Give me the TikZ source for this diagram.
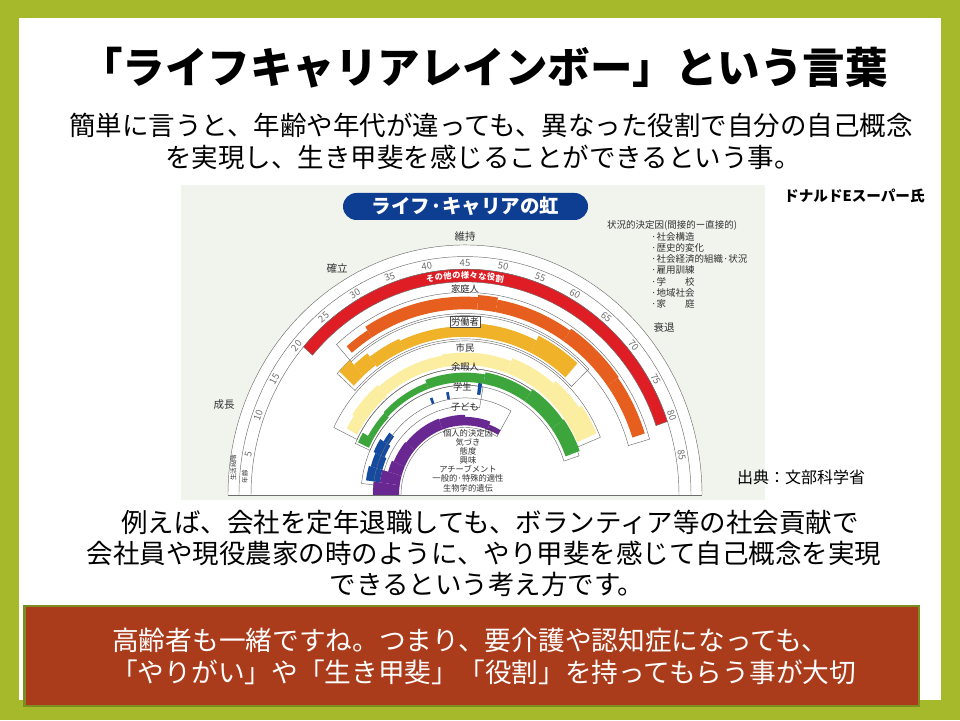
\documentclass[tikz,border=0pt]{standalone}
\usepackage{fontspec}
\setmainfont{Noto Sans CJK JP}
\newfontfamily\jp{Noto Sans CJK JP}
\definecolor{bggreen}{RGB}{166,185,42}
\definecolor{boxred}{RGB}{170,60,28}
\definecolor{boxedge}{RGB}{125,140,32}
\definecolor{paper}{RGB}{240,244,236}
\definecolor{pillblue}{RGB}{14,62,145}
\definecolor{cred}{RGB}{222,30,36}
\definecolor{corange}{RGB}{230,95,30}
\definecolor{cgold}{RGB}{240,178,40}
\definecolor{cpale}{RGB}{251,238,160}
\definecolor{cgreen}{RGB}{60,165,60}
\definecolor{cblue}{RGB}{20,75,160}
\definecolor{cpurple}{RGB}{105,40,145}
\definecolor{lgray}{RGB}{110,110,110}
\newcommand\rbnd[5]{\fill[#1] ({180-2*(#2)}:#4) arc[start angle={180-2*(#2)}, end angle={180-2*(#3)}, radius=#4] -- ({180-2*(#3)}:#5) arc[start angle={180-2*(#3)}, end angle={180-2*(#2)}, radius=#5] -- cycle;}
\newcommand\rbout[4]{\draw[outl] ({180-2*(#1)}:#3) arc[start angle={180-2*(#1)}, end angle={180-2*(#2)}, radius=#3] -- ({180-2*(#2)}:#4) arc[start angle={180-2*(#2)}, end angle={180-2*(#1)}, radius=#4] -- cycle;}
\begin{document}
\begin{tikzpicture}[x=1pt,y=1pt,
  outl/.style={draw=lgray, line width=0.45pt},
  body/.style={font=\fontsize{26.5}{30}\selectfont, inner sep=0pt},
  wbody/.style={font=\fontsize{26.7}{30}\selectfont, inner sep=0pt, text=white, anchor=west},
  agenum/.style={font=\fontsize{9.5}{10}\selectfont, text=lgray, inner sep=0pt},
  small/.style={font=\fontsize{9.5}{11}\selectfont, inner sep=0pt, text=black!80},
  tiny/.style={font=\fontsize{8.3}{9}\selectfont, inner sep=0pt, text=black!80},
  stage/.style={font=\fontsize{10.5}{12}\selectfont, inner sep=0pt, text=black!80},
  redtxt/.style={font=\bfseries\fontsize{8.3}{9}\selectfont, inner sep=0pt, text=white},
  rolelbl/.style={font=\fontsize{9.3}{10}\selectfont, inner sep=0pt, text=black!85},
 ]
\useasboundingbox (0,0) rectangle (960,720);
\fill[bggreen] (0,0) rectangle (960,720);
\fill[white] (19,20) rectangle (941,702);

% title and intro
\node[font=\bfseries\fontsize{42.5}{43}\selectfont, inner sep=0pt] (title) at (484,652) {「ライフキャリアレインボー」という言葉};
\node[body] (s1) at (491,595) {簡単に言うと、年齢や年代が違っても、異なった役割で自分の自己概念};
\node[body] (s2) at (483,563) {を実現し、生き甲斐を感じることができるという事。};

% diagram paper
\fill[paper] (181,220) rectangle (765,535);
\node[font=\bfseries\fontsize{14.6}{15}\selectfont, inner sep=0pt, anchor=west] (super) at (784,524) {ドナルドEスーパー氏};
\node[font=\fontsize{16}{16}\selectfont, inner sep=0pt, anchor=west] (src) at (737,243) {出典：文部科学省};

% pill title
\node[fill=pillblue, rounded corners=13.5pt, minimum width=245pt, minimum height=27pt, inner sep=0pt,
      font=\bfseries\fontsize{19.5}{20}\selectfont, text=white] (pill) at (465.5,513.5) {ライフ·キャリアの虹};

\begin{scope}[shift={(465,225)}, yscale=1.055]
  \fill[white] (180:237) arc[start angle=180, end angle=0, radius=237] -- cycle;
  \draw[outl] (180:237) arc[start angle=180, end angle=0, radius=237];
  \draw[outl] (180:226) arc[start angle=180, end angle=0, radius=226];
  \draw[outl] (180:214) arc[start angle=180, end angle=0, radius=214];
  \draw[outl] (180:237) -- (0:237);
  % age numbers
  \foreach \a in {5,10,...,85}
    \node[agenum, rotate={90-2*\a}] (n\a) at ({180-2*\a}:220) {\a};
  % red: others
  \rbnd{cred}{20.5}{80.5}{202}{214}
  \rbout{20.5}{80.5}{202}{214}
  \foreach \c [count=\i from 0] in {そ,の,他,の,様,々,な,役,割}
    \node[redtxt, rotate={(99.6-2.4*\i)-90}] (rt\i) at ({99.6-2.4*\i}:208) {\c};
  % orange: homemaker
  \rbout{24}{82}{170}{192}
  \rbnd{corange}{25}{29}{176}{184}
  \rbnd{corange}{29}{47}{176}{188}
  \rbnd{corange}{47}{50}{176}{190}
  \rbnd{corange}{50}{62}{176}{188}
  \rbnd{corange}{62}{72}{176}{190}
  \rbnd{corange}{72}{81}{176}{189}
  \node[rolelbl] (lhome) at (90:195) {家庭人};
  % gold: worker
  \rbout{21}{68}{148}{172}
  \rbnd{cgold}{21.5}{24}{152}{172}
  \rbnd{cgold}{24}{27}{152}{166}
  \rbnd{cgold}{27}{33}{150}{162}
  \rbnd{cgold}{33}{45}{150}{160}
  \rbnd{cgold}{45}{58}{150}{163}
  \rbnd{cgold}{58}{66}{150}{168}
  \node[rolelbl, fill=white, draw=black!70, line width=0.4pt, inner sep=1.2pt] (lwork) at (90:164) {労働者};
  % pale yellow: citizen
  \rbout{13}{79}{120}{146}
  \rbnd{cpale}{14}{17}{122}{134}
  \rbnd{cpale}{17}{25}{122}{136}
  \rbnd{cpale}{25}{40}{123}{134}
  \rbnd{cpale}{40}{55}{123}{135}
  \rbnd{cpale}{55}{65}{123}{138}
  \rbnd{cpale}{65}{72}{123}{141}
  \rbnd{cpale}{72}{78}{123}{144}
  \node[rolelbl] (lcit) at (90:139.5) {市民};
  % green: leisurite
  \rbout{12}{81}{104}{120}
  \rbnd{cgreen}{12.5}{15}{106}{118}
  \rbnd{cgreen}{15}{22}{106}{112}
  \rbnd{cgreen}{22}{35}{107}{113}
  \rbnd{cgreen}{35}{50}{107}{116}
  \rbnd{cgreen}{50}{62}{107}{118}
  \rbnd{cgreen}{62}{72}{107}{121}
  \rbnd{cgreen}{72}{80}{107}{122}
  \node[rolelbl] (lleis) at (90:121) {余暇人};
  % blue: student
  \rbout{3}{50}{84}{104}
  \rbnd{cblue}{4}{8}{86}{100}
  \rbnd{cblue}{8}{12}{86}{98}
  \rbnd{cblue}{12}{16}{88}{100}
  \rbnd{cblue}{16}{19}{90}{96}
  \rbnd{cblue}{34.5}{35.3}{92}{98}
  \rbnd{cblue}{39.5}{40.3}{92}{99}
  \rbnd{cblue}{48.6}{49.6}{96}{107}
  \node[rolelbl] (lstu) at (91.5:102) {学生};
  % purple: child
  \rbout{0}{60}{64}{92}
  \rbnd{cpurple}{0}{4}{66}{92}
  \rbnd{cpurple}{4}{8}{66}{86}
  \rbnd{cpurple}{8}{12}{66}{80}
  \rbnd{cpurple}{12}{20}{66}{78}
  \rbnd{cpurple}{20}{35}{66}{77}
  \rbnd{cpurple}{35}{45}{66}{76}
  \rbnd{cpurple}{45}{55}{66}{74}
  \rbnd{cpurple}{55}{60}{66}{71}
  \node[rolelbl] (lchild) at (90:83) {子ども};
\end{scope}

% inner determinants
\node[tiny] (d1) at (468,287) {個人的決定因};
\node[tiny] (d2) at (468,278) {気づき};
\node[tiny] (d3) at (468,269) {態度};
\node[tiny] (d4) at (468,260) {興味};
\node[tiny] (d5) at (468,251) {アチーブメント};
\node[tiny] (d6) at (468,241.5) {一般的·特殊的適性};
\node[tiny] (d7) at (468,232) {生物学的遺伝};
% vertical small labels
\node[font=\fontsize{6.5}{7}\selectfont, inner sep=0pt, rotate=90, text=black!80] (lstage) at (233.5,252) {生活段階};
\node[font=\fontsize{6.5}{7}\selectfont, inner sep=0pt, rotate=90, text=black!80] (lage) at (245,243) {年齢};
% stages
\node[stage] (g1) at (224,315) {成長};
\node[stage] (g2) at (337,451) {確立};
\node[stage] (g3) at (465,483) {維持};
\node[stage] (g4) at (664,392) {衰退};
% situational determinants
\node[small, anchor=west] (sd0) at (607,495) {状況的決定因(間接的ー直接的)};
\node[small, anchor=west] (sd1) at (651,483) {·社会構造};
\node[small, anchor=west] (sd2) at (651,472) {·歴史的変化};
\node[small, anchor=west] (sd3) at (651,461) {·社会経済的組織·状況};
\node[small, anchor=west] (sd4) at (651,450) {·雇用訓練};
\node[small, anchor=west] (sd5) at (651,438.5) {·学　　校};
\node[small, anchor=west] (sd6) at (651,427) {·地域社会};
\node[small, anchor=west] (sd7) at (651,416) {·家　　庭};

% lower text
\node[body] (t1) at (490,198) {例えば、会社を定年退職しても、ボランティア等の社会貢献で};
\node[body] (t2) at (484,167) {会社員や現役農家の時のように、やり甲斐を感じて自己概念を実現};
\node[body] (t3) at (487,136) {できるという考え方です。};

% red box
\fill[boxedge] (23,13) rectangle (920,115);
\fill[boxred] (26,15) rectangle (918,113);
\node[wbody] (b1) at (112,80) {高齢者も一緒ですね。つまり、要介護や認知症になっても、};
\node[wbody] (b2) at (111,48) {「やりがい」や「生き甲斐」「役割」を持ってもらう事が大切};
\end{tikzpicture}
\end{document}
